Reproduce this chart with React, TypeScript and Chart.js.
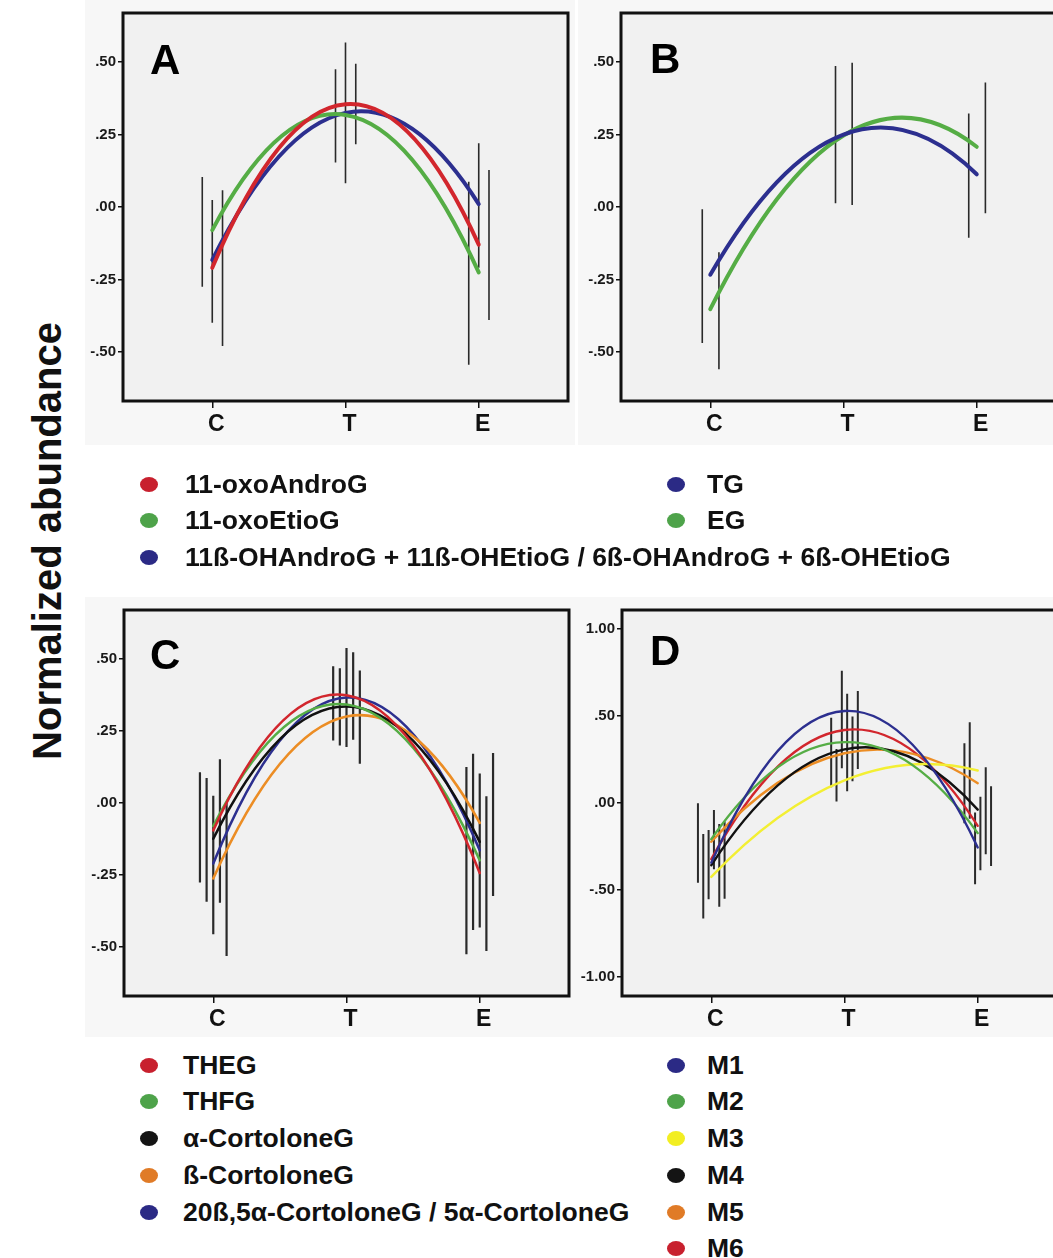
import React, { useEffect, useRef } from 'react';
import { Chart, registerables } from 'chart.js';

Chart.register(...registerables);

// ---------- shared axis data ----------
const CATEGORIES = ['C', 'T', 'E'];
const Y_TICKS_ABC = [-0.5, -0.25, 0, 0.25, 0.5];
const Y_LABELS_ABC = ['-.50', '-.25', '.00', '.25', '.50'];
const Y_TICKS_D = [-1, -0.5, 0, 0.5, 1];
const Y_LABELS_D = ['-1.00', '-.50', '.00', '.50', '1.00'];

// ---------- Panel A ----------
const A_NAMES = ['11-oxoAndroG', '11-oxoEtioG', '11ß-OHAndroG + 11ß-OHEtioG / 6ß-OHAndroG + 6ß-OHEtioG'];
const A_OXOANDROG = [-0.21, 0.355, -0.13];
const A_OXOANDROG_LO = [-0.48, 0.217, -0.39];
const A_OXOANDROG_HI = [0.058, 0.495, 0.128];
const A_OXOETIOG = [-0.08, 0.318, -0.226];
const A_OXOETIOG_LO = [-0.275, 0.154, -0.545];
const A_OXOETIOG_HI = [0.104, 0.476, 0.087];
const A_OHANDROG = [-0.183, 0.325, 0.01];
const A_OHANDROG_LO = [-0.4, 0.082, -0.21];
const A_OHANDROG_HI = [0.024, 0.568, 0.22];

// ---------- Panel B ----------
const B_NAMES = ['TG', 'EG'];
const B_TG = [-0.234, 0.25, 0.113];
const B_TG_LO = [-0.47, 0.013, -0.106];
const B_TG_HI = [-0.008, 0.487, 0.323];
const B_EG = [-0.353, 0.247, 0.208];
const B_EG_LO = [-0.56, 0.007, -0.022];
const B_EG_HI = [-0.156, 0.498, 0.43];

// ---------- Panel C ----------
const C_NAMES = ['THEG', 'THFG', 'α-CortoloneG', 'ß-CortoloneG', '20ß,5α-CortoloneG / 5α-CortoloneG'];
const C_THEG = [-0.095, 0.374, -0.243];
const C_THEG_LO = [-0.346, 0.22, -0.514];
const C_THEG_HI = [0.152, 0.523, 0.023];
const C_THFG = [-0.08, 0.342, -0.199];
const C_THFG_LO = [-0.276, 0.217, -0.525];
const C_THFG_HI = [0.107, 0.475, 0.125];
const C_ACORT = [-0.124, 0.335, -0.135];
const C_ACORT_LO = [-0.343, 0.2, -0.441];
const C_ACORT_HI = [0.087, 0.468, 0.171];
const C_BCORT = [-0.262, 0.3, -0.069];
const C_BCORT_LO = [-0.531, 0.136, -0.323];
const C_BCORT_HI = [0.001, 0.46, 0.174];
const C_20B = [-0.21, 0.366, -0.164];
const C_20B_LO = [-0.456, 0.194, -0.432];
const C_20B_HI = [0.025, 0.538, 0.102];

// ---------- Panel D ----------
const D_NAMES = ['M1', 'M2', 'M3', 'M4', 'M5', 'M6'];
const D_M1 = [-0.343, 0.529, -0.256];
const D_M1_LO = [-0.554, 0.2, -0.468];
const D_M1_HI = [-0.156, 0.76, -0.054];
const D_M2 = [-0.208, 0.35, -0.173];
const D_M2_LO = [-0.381, 0.067, -0.387];
const D_M2_HI = [-0.04, 0.629, 0.036];
const D_M3 = [-0.425, 0.13, 0.187];
const D_M3_LO = [-0.664, 0.009, -0.09];
const D_M3_HI = [-0.179, 0.31, 0.465];
const D_M4 = [-0.358, 0.308, -0.038];
const D_M4_LO = [-0.597, 0.125, -0.295];
const D_M4_HI = [-0.121, 0.498, 0.206];
const D_M5 = [-0.223, 0.286, 0.114];
const D_M5_LO = [-0.458, 0.09, -0.116];
const D_M5_HI = [-0.002, 0.49, 0.344];
const D_M6 = [-0.323, 0.42, -0.131];
const D_M6_LO = [-0.551, 0.196, -0.362];
const D_M6_HI = [-0.106, 0.644, 0.096];

// ---------- styles ----------
const FONT = '"Liberation Sans", Arial, Helvetica, sans-serif';
const COL = {
  red: '#d2262d',
  green: '#55ad45',
  blue: '#2c2f8f',
  yellow: '#f3ef33',
  black: '#111111',
  orange: '#ec8d24',
};
const DOT = {
  red: '#c8202e',
  green: '#4ea34a',
  blue: '#2b2a85',
  yellow: '#f2ee22',
  black: '#141414',
  orange: '#e07b27',
};

type Series = { name: string; c: keyof typeof COL; v: number[]; lo: number[]; hi: number[]; off: number };
type PanelCfg = {
  letter: string;
  left: number; top: number; width: number; height: number;
  yW: number; xH: number; padTop: number; padRight: number;
  yMin: number; yMax: number; yTicks: number[]; yLabels: string[];
  curveW: number; barW: number;
  series: Series[];
  letterPos: [number, number];
};

const PANELS: PanelCfg[] = [
  {
    letter: 'A', left: 85, top: 0, width: 490, height: 445, yW: 38, xH: 44, padTop: 13, padRight: 7,
    yMin: -0.67, yMax: 0.67, yTicks: Y_TICKS_ABC, yLabels: Y_LABELS_ABC, curveW: 4, barW: 1.6,
    letterPos: [150, 45],
    series: [
      { name: A_NAMES[0], c: 'red', v: A_OXOANDROG, lo: A_OXOANDROG_LO, hi: A_OXOANDROG_HI, off: 0.077 },
      { name: A_NAMES[1], c: 'green', v: A_OXOETIOG, lo: A_OXOETIOG_LO, hi: A_OXOETIOG_HI, off: -0.075 },
      { name: A_NAMES[2], c: 'blue', v: A_OHANDROG, lo: A_OHANDROG_LO, hi: A_OHANDROG_HI, off: 0 },
    ],
  },
  {
    letter: 'B', left: 578, top: 0, width: 500, height: 445, yW: 43, xH: 44, padTop: 13, padRight: 12,
    yMin: -0.67, yMax: 0.67, yTicks: Y_TICKS_ABC, yLabels: Y_LABELS_ABC, curveW: 4, barW: 1.6,
    letterPos: [650, 44],
    series: [
      { name: B_NAMES[0], c: 'blue', v: B_TG, lo: B_TG_LO, hi: B_TG_HI, off: -0.06 },
      { name: B_NAMES[1], c: 'green', v: B_EG, lo: B_EG_LO, hi: B_EG_HI, off: 0.065 },
    ],
  },
  {
    letter: 'C', left: 85, top: 597, width: 490, height: 440, yW: 39, xH: 41, padTop: 13, padRight: 6,
    yMin: -0.67, yMax: 0.67, yTicks: Y_TICKS_ABC, yLabels: Y_LABELS_ABC, curveW: 2.6, barW: 2.2,
    letterPos: [150, 640],
    series: [
      { name: C_NAMES[0], c: 'red', v: C_THEG, lo: C_THEG_LO, hi: C_THEG_HI, off: 0.05 },
      { name: C_NAMES[1], c: 'green', v: C_THFG, lo: C_THFG_LO, hi: C_THFG_HI, off: -0.1 },
      { name: C_NAMES[2], c: 'black', v: C_ACORT, lo: C_ACORT_LO, hi: C_ACORT_HI, off: -0.05 },
      { name: C_NAMES[3], c: 'orange', v: C_BCORT, lo: C_BCORT_LO, hi: C_BCORT_HI, off: 0.1 },
      { name: C_NAMES[4], c: 'blue', v: C_20B, lo: C_20B_LO, hi: C_20B_HI, off: 0 },
    ],
  },
  {
    letter: 'D', left: 572, top: 597, width: 506, height: 440, yW: 50, xH: 41, padTop: 13, padRight: 11,
    yMin: -1.11, yMax: 1.11, yTicks: Y_TICKS_D, yLabels: Y_LABELS_D, curveW: 2.4, barW: 2,
    letterPos: [650, 636],
    series: [
      { name: D_NAMES[0], c: 'blue', v: D_M1, lo: D_M1_LO, hi: D_M1_HI, off: -0.02 },
      { name: D_NAMES[1], c: 'green', v: D_M2, lo: D_M2_LO, hi: D_M2_HI, off: 0.02 },
      { name: D_NAMES[2], c: 'yellow', v: D_M3, lo: D_M3_LO, hi: D_M3_HI, off: -0.06 },
      { name: D_NAMES[3], c: 'black', v: D_M4, lo: D_M4_LO, hi: D_M4_HI, off: 0.06 },
      { name: D_NAMES[4], c: 'orange', v: D_M5, lo: D_M5_LO, hi: D_M5_HI, off: -0.1 },
      { name: D_NAMES[5], c: 'red', v: D_M6, lo: D_M6_LO, hi: D_M6_HI, off: 0.1 },
    ],
  },
];

const boxPlugin = {
  id: 'panelBox',
  beforeDraw(chart: any) {
    const { ctx, chartArea: a, width, height } = chart;
    ctx.save();
    ctx.fillStyle = '#f7f7f7';
    ctx.fillRect(0, 0, width, height);
    ctx.fillStyle = '#f1f1f1';
    ctx.fillRect(a.left, a.top, a.right - a.left, a.bottom - a.top);
    ctx.restore();
  },
  afterDraw(chart: any) {
    const { ctx, chartArea: a } = chart;
    ctx.save();
    ctx.strokeStyle = '#111';
    ctx.lineWidth = 3;
    ctx.strokeRect(a.left, a.top, a.right - a.left, a.bottom - a.top);
    ctx.restore();
  },
};

// Sets the Bezier control points of 3-point curve datasets so that the drawn
// path is the quadratic fit through the three group means (as in the original).
const quadFitPlugin = {
  id: 'quadFit',
  beforeDatasetDraw(chart: any, args: any) {
    const ds = chart.data.datasets[args.index];
    if (!ds || !ds.quadFit) return;
    const meta = args.meta;
    meta.dataset.updateControlPoints(chart.chartArea, meta.iScale.axis);
    const p = meta.data;
    if (!p || p.length !== 3) return;
    const [p0, p1, p2] = p;
    const h0 = p1.x - p0.x;
    const h1 = p2.x - p1.x;
    const d01 = (p1.y - p0.y) / h0;
    const d12 = (p2.y - p1.y) / h1;
    const a2 = (d12 - d01) / (p2.x - p0.x);
    const slope = (x: number) => d01 + a2 * (2 * x - p0.x - p1.x);
    const s0 = slope(p0.x);
    const s1 = slope(p1.x);
    const s2 = slope(p2.x);
    p0.cp2x = p0.x + h0 / 3;
    p0.cp2y = p0.y + (s0 * h0) / 3;
    p1.cp1x = p1.x - h0 / 3;
    p1.cp1y = p1.y - (s1 * h0) / 3;
    p1.cp2x = p1.x + h1 / 3;
    p1.cp2y = p1.y + (s1 * h1) / 3;
    p2.cp1x = p2.x - h1 / 3;
    p2.cp1y = p2.y - (s2 * h1) / 3;
  },
};

function Panel({ cfg }: { cfg: PanelCfg }) {
  const ref = useRef<HTMLCanvasElement | null>(null);
  useEffect(() => {
    if (!ref.current) return;
    const datasets: any[] = [];
    cfg.series.forEach((s) => {
      const pts: any[] = [];
      s.lo.forEach((lo, i) => {
        const x = i + 1 + s.off;
        pts.push({ x, y: lo }, { x, y: s.hi[i] }, { x, y: null });
      });
      datasets.push({
        label: s.name + ' error',
        data: pts,
        borderColor: '#2a2a2a',
        borderWidth: cfg.barW,
        borderCapStyle: 'butt',
        pointRadius: 0,
        tension: 0,
        spanGaps: false,
        order: 2,
      });
    });
    cfg.series.forEach((s) => {
      datasets.push({
        label: s.name,
        data: s.v.map((y, i) => ({ x: i + 1, y })),
        borderColor: COL[s.c],
        borderWidth: cfg.curveW,
        borderCapStyle: 'round',
        pointRadius: 0,
        tension: 0.33,
        quadFit: true,
        order: 1,
      });
    });
    const chart = new Chart(ref.current, {
      type: 'line',
      data: { datasets },
      plugins: [boxPlugin, quadFitPlugin],
      options: {
        animation: false,
        responsive: false,
        devicePixelRatio: 1,
        layout: { padding: { top: cfg.padTop, right: cfg.padRight, left: 0, bottom: 0 } },
        plugins: { legend: { display: false }, tooltip: { enabled: false } },
        scales: {
          x: {
            type: 'linear',
            min: 0.33,
            max: 3.67,
            afterBuildTicks: (s: any) => {
              s.ticks = CATEGORIES.map((_, i) => ({ value: i + 1 }));
            },
            afterFit: (s: any) => {
              s.height = cfg.xH;
            },
            ticks: {
              autoSkip: false,
              maxRotation: 0,
              callback: (_v: any, i: number) => CATEGORIES[i],
              font: { family: FONT, size: 23, weight: 'bold' },
              color: '#111',
              padding: 3,
              labelOffset: 4,
            },
            grid: { drawOnChartArea: false, drawTicks: true, tickLength: 7, color: '#111', lineWidth: 1.5 },
            border: { display: false },
          },
          y: {
            type: 'linear',
            min: cfg.yMin,
            max: cfg.yMax,
            afterBuildTicks: (s: any) => {
              s.ticks = cfg.yTicks.map((v) => ({ value: v }));
            },
            afterFit: (s: any) => {
              s.width = cfg.yW;
            },
            ticks: {
              autoSkip: false,
              callback: (_v: any, i: number) => cfg.yLabels[i],
              font: { family: FONT, size: 15, weight: 'bold' },
              color: '#1a1a1a',
              padding: 2,
            },
            grid: { drawOnChartArea: false, drawTicks: true, tickLength: 5, color: '#111', lineWidth: 1.5 },
            border: { display: false },
          },
        },
      } as any,
    });
    return () => chart.destroy();
  }, [cfg]);
  return (
    <canvas
      ref={ref}
      width={cfg.width}
      height={cfg.height}
      style={{ position: 'absolute', left: cfg.left, top: cfg.top, width: cfg.width, height: cfg.height }}
    />
  );
}

function LegendItem({ x, y, color, label, gap }: { x: number; y: number; color: string; label: string; gap: number }) {
  return (
    <>
      <div
        style={{
          position: 'absolute',
          left: x - 9,
          top: y - 7.5,
          width: 18,
          height: 15,
          borderRadius: '50%',
          background: color,
        }}
      />
      <div
        style={{
          position: 'absolute',
          left: x + gap,
          top: y - 15,
          height: 30,
          lineHeight: '30px',
          font: `bold 26.5px ${FONT}`,
          color: '#111',
          whiteSpace: 'nowrap',
        }}
      >
        {label}
      </div>
    </>
  );
}

export default function App() {
  const [A, B, C, D] = PANELS;
  const rowAB = [484, 520, 557];
  const rowCD = [1065, 1101, 1138, 1175, 1212, 1248];
  return (
    <div
      style={{
        position: 'absolute',
        left: 0,
        top: 0,
        width: 1053,
        height: 1258,
        overflow: 'hidden',
        background: '#ffffff',
        fontFamily: FONT,
      }}
    >
      {PANELS.map((p) => (
        <Panel key={p.letter} cfg={p} />
      ))}
      {PANELS.map((p) => (
        <div
          key={'l' + p.letter}
          style={{
            position: 'absolute',
            left: p.letterPos[0],
            top: p.letterPos[1] - 6,
            font: `bold 42px ${FONT}`,
            lineHeight: '42px',
            color: '#000',
          }}
        >
          {p.letter}
        </div>
      ))}
      <div
        style={{
          position: 'absolute',
          left: 47,
          top: 541,
          transform: 'translate(-50%, -50%) rotate(-90deg)',
          whiteSpace: 'nowrap',
          font: `bold 40px ${FONT}`,
          color: '#111',
        }}
      >
        Normalized abundance
      </div>
      {A.series.map((s, i) => (
        <LegendItem key={'la' + i} x={149} y={rowAB[i]} color={DOT[s.c]} label={s.name} gap={36} />
      ))}
      {B.series.map((s, i) => (
        <LegendItem key={'lb' + i} x={676} y={rowAB[i]} color={DOT[s.c]} label={s.name} gap={31} />
      ))}
      {C.series.map((s, i) => (
        <LegendItem key={'lc' + i} x={149} y={rowCD[i]} color={DOT[s.c]} label={s.name} gap={34} />
      ))}
      {D.series.map((s, i) => (
        <LegendItem key={'ld' + i} x={676} y={rowCD[i]} color={DOT[s.c]} label={s.name} gap={31} />
      ))}
    </div>
  );
}
